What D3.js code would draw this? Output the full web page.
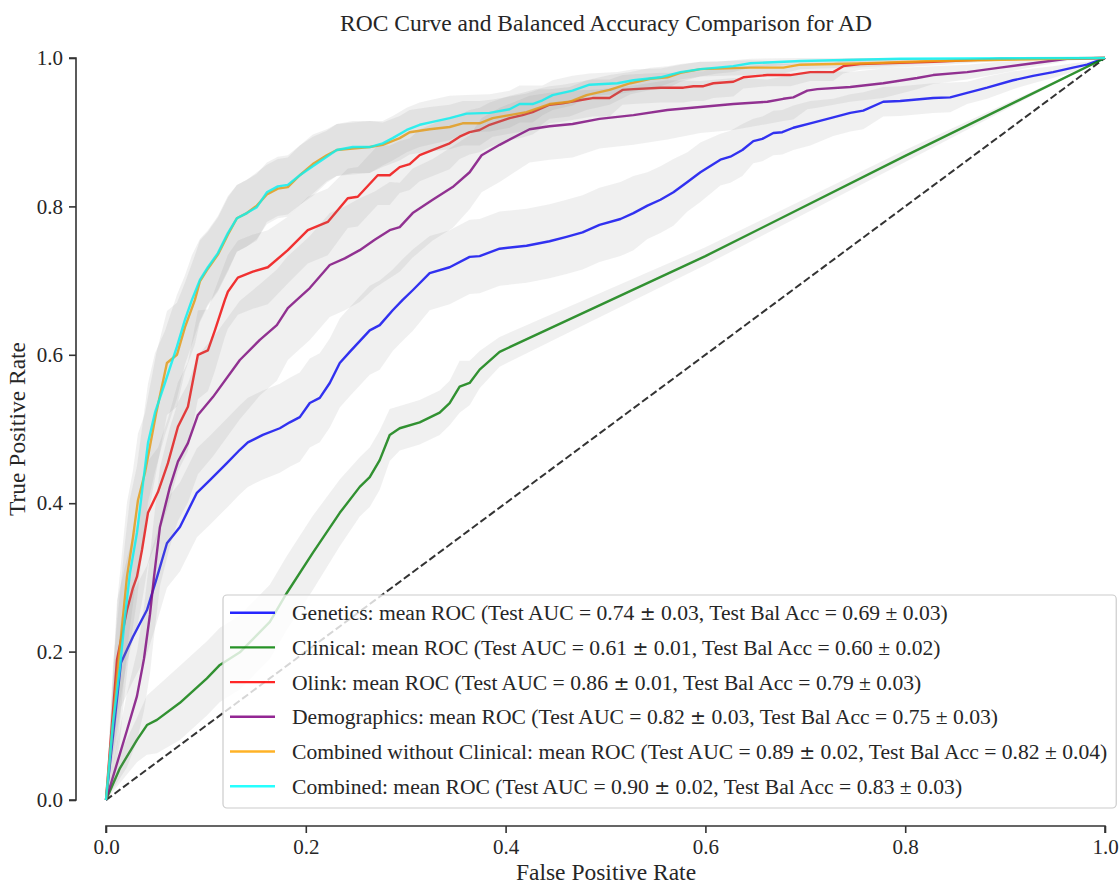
<!DOCTYPE html>
<html><head><meta charset="utf-8">
<script src="https://cdn.jsdelivr.net/npm/d3@7"></script>
<style>
html,body{margin:0;padding:0;background:#fff;}
svg text{font-family:"Liberation Serif","Times New Roman",serif;fill:#262626;}
</style></head>
<body><svg id="chart" width="1120" height="884"></svg>
<script>
// ---- data: [fpr, mean tpr, std] ----
const geneticsROC = [[0,0,0],[0.015,0.185,0.06],[0.027,0.220,0.06],[0.041,0.256,0.06],[0.051,0.300,0.06],[0.061,0.346,0.06],[0.074,0.368,0.06],[0.091,0.414,0.06],[0.104,0.431,0.06],[0.121,0.454,0.06],[0.134,0.472,0.06],[0.142,0.482,0.06],[0.157,0.492,0.06],[0.174,0.501,0.06],[0.184,0.509,0.06],[0.194,0.516,0.06],[0.204,0.535,0.06],[0.214,0.542,0.06],[0.224,0.562,0.06],[0.234,0.589,0.06],[0.244,0.604,0.06],[0.264,0.633,0.06],[0.274,0.640,0.06],[0.287,0.660,0.055],[0.297,0.674,0.055],[0.307,0.687,0.055],[0.324,0.710,0.05],[0.344,0.718,0.05],[0.364,0.732,0.05],[0.374,0.733,0.05],[0.394,0.743,0.05],[0.421,0.747,0.05],[0.444,0.753,0.05],[0.461,0.759,0.05],[0.477,0.765,0.05],[0.494,0.775,0.05],[0.515,0.783,0.05],[0.528,0.791,0.05],[0.542,0.801,0.045],[0.555,0.809,0.045],[0.568,0.819,0.045],[0.582,0.833,0.04],[0.595,0.846,0.04],[0.615,0.863,0.035],[0.625,0.867,0.035],[0.637,0.876,0.035],[0.648,0.888,0.03],[0.657,0.891,0.03],[0.668,0.899,0.03],[0.677,0.900,0.03],[0.688,0.906,0.03],[0.705,0.912,0.03],[0.728,0.920,0.025],[0.745,0.926,0.025],[0.758,0.929,0.025],[0.778,0.941,0.02],[0.795,0.942,0.02],[0.828,0.946,0.02],[0.845,0.947,0.02],[0.862,0.953,0.015],[0.882,0.960,0.015],[0.908,0.970,0.012],[0.928,0.976,0.01],[0.948,0.981,0.008],[0.968,0.987,0.006],[0.982,0.991,0.004],[1,1,0]];
const clinicalROC = [[0,0,0],[0.014,0.043,0.02],[0.031,0.081,0.03],[0.041,0.101,0.04],[0.051,0.108,0.045],[0.074,0.131,0.05],[0.101,0.164,0.05],[0.114,0.182,0.05],[0.134,0.199,0.05],[0.164,0.240,0.05],[0.181,0.279,0.05],[0.207,0.333,0.05],[0.234,0.387,0.045],[0.254,0.422,0.04],[0.264,0.435,0.04],[0.274,0.458,0.04],[0.284,0.492,0.035],[0.294,0.501,0.03],[0.314,0.509,0.03],[0.334,0.522,0.03],[0.344,0.535,0.03],[0.354,0.557,0.035],[0.364,0.562,0.03],[0.374,0.580,0.025],[0.394,0.604,0.02],[0.600,0.733,0.012],[0.800,0.868,0.008],[1,1,0]];
const olinkROC = [[0,0,0],[0.011,0.189,0.08],[0.021,0.256,0.07],[0.027,0.286,0.07],[0.031,0.301,0.07],[0.036,0.337,0.07],[0.042,0.387,0.07],[0.052,0.415,0.06],[0.062,0.454,0.06],[0.072,0.503,0.06],[0.082,0.530,0.06],[0.092,0.600,0.06],[0.102,0.606,0.055],[0.109,0.633,0.055],[0.119,0.674,0.05],[0.122,0.685,0.05],[0.132,0.704,0.05],[0.147,0.712,0.05],[0.162,0.718,0.05],[0.182,0.741,0.045],[0.202,0.768,0.045],[0.222,0.779,0.045],[0.242,0.811,0.04],[0.252,0.813,0.04],[0.272,0.842,0.04],[0.284,0.842,0.04],[0.294,0.853,0.035],[0.304,0.857,0.035],[0.314,0.869,0.035],[0.344,0.885,0.035],[0.354,0.894,0.03],[0.364,0.900,0.03],[0.374,0.903,0.03],[0.384,0.910,0.03],[0.404,0.919,0.03],[0.417,0.923,0.03],[0.427,0.927,0.03],[0.444,0.937,0.025],[0.457,0.939,0.025],[0.474,0.943,0.025],[0.487,0.946,0.025],[0.504,0.946,0.025],[0.517,0.957,0.02],[0.528,0.958,0.02],[0.555,0.960,0.02],[0.578,0.960,0.02],[0.588,0.962,0.02],[0.598,0.962,0.02],[0.608,0.966,0.02],[0.628,0.968,0.02],[0.638,0.974,0.015],[0.662,0.977,0.015],[0.685,0.977,0.015],[0.705,0.981,0.012],[0.728,0.981,0.012],[0.738,0.989,0.01],[0.755,0.992,0.008],[0.778,0.993,0.007],[0.828,0.995,0.005],[0.895,0.999,0.003],[1,1,0]];
const demographicsROC = [[0,0,0],[0.021,0.094,0.05],[0.031,0.140,0.06],[0.038,0.190,0.07],[0.044,0.250,0.08],[0.048,0.300,0.08],[0.054,0.368,0.08],[0.064,0.422,0.08],[0.072,0.456,0.08],[0.082,0.481,0.08],[0.092,0.519,0.08],[0.107,0.543,0.08],[0.134,0.593,0.08],[0.154,0.620,0.075],[0.171,0.640,0.075],[0.182,0.663,0.07],[0.191,0.674,0.07],[0.204,0.690,0.07],[0.224,0.721,0.07],[0.239,0.730,0.07],[0.254,0.741,0.07],[0.269,0.755,0.065],[0.284,0.768,0.065],[0.294,0.772,0.06],[0.307,0.791,0.06],[0.327,0.809,0.055],[0.347,0.826,0.055],[0.364,0.846,0.05],[0.376,0.869,0.05],[0.394,0.883,0.05],[0.424,0.904,0.045],[0.444,0.908,0.045],[0.467,0.911,0.045],[0.494,0.918,0.04],[0.528,0.923,0.04],[0.562,0.930,0.04],[0.595,0.934,0.035],[0.628,0.938,0.035],[0.662,0.941,0.03],[0.678,0.945,0.03],[0.688,0.947,0.03],[0.702,0.956,0.025],[0.712,0.958,0.025],[0.745,0.961,0.02],[0.778,0.966,0.02],[0.812,0.973,0.015],[0.828,0.977,0.012],[0.862,0.981,0.01],[0.895,0.987,0.008],[0.928,0.993,0.005],[0.962,0.999,0.003],[1,1,0]];
const combinedNoClinROC = [[0,0,0],[0.012,0.179,0.1],[0.021,0.301,0.1],[0.027,0.354,0.09],[0.032,0.404,0.09],[0.039,0.441,0.08],[0.050,0.520,0.08],[0.061,0.589,0.07],[0.071,0.600,0.07],[0.079,0.637,0.06],[0.089,0.674,0.06],[0.094,0.699,0.055],[0.102,0.716,0.05],[0.112,0.735,0.05],[0.122,0.762,0.05],[0.131,0.784,0.045],[0.141,0.791,0.045],[0.151,0.801,0.045],[0.161,0.816,0.04],[0.172,0.824,0.04],[0.182,0.826,0.04],[0.194,0.842,0.04],[0.207,0.857,0.04],[0.221,0.869,0.035],[0.231,0.876,0.035],[0.247,0.878,0.035],[0.264,0.880,0.035],[0.277,0.883,0.03],[0.294,0.892,0.03],[0.304,0.900,0.03],[0.324,0.904,0.03],[0.344,0.907,0.03],[0.357,0.912,0.03],[0.374,0.912,0.03],[0.387,0.919,0.025],[0.404,0.923,0.025],[0.421,0.927,0.025],[0.434,0.933,0.025],[0.444,0.938,0.02],[0.464,0.941,0.02],[0.481,0.950,0.02],[0.504,0.957,0.02],[0.525,0.966,0.015],[0.545,0.972,0.015],[0.562,0.974,0.015],[0.575,0.980,0.012],[0.595,0.985,0.01],[0.645,0.987,0.01],[0.678,0.987,0.008],[0.695,0.991,0.006],[0.762,0.993,0.005],[0.828,0.996,0.003],[1,1,0]];
const combinedROC = [[0,0,0],[0.007,0.104,0.08],[0.014,0.179,0.1],[0.019,0.247,0.1],[0.024,0.306,0.1],[0.031,0.360,0.09],[0.042,0.481,0.08],[0.049,0.522,0.08],[0.059,0.562,0.07],[0.071,0.611,0.07],[0.079,0.647,0.06],[0.086,0.674,0.06],[0.094,0.701,0.055],[0.102,0.718,0.05],[0.112,0.737,0.05],[0.122,0.764,0.05],[0.131,0.784,0.045],[0.141,0.791,0.045],[0.151,0.799,0.045],[0.161,0.819,0.04],[0.172,0.827,0.04],[0.182,0.829,0.04],[0.194,0.842,0.04],[0.207,0.854,0.04],[0.221,0.867,0.035],[0.231,0.876,0.035],[0.247,0.880,0.035],[0.264,0.880,0.035],[0.277,0.885,0.03],[0.287,0.892,0.03],[0.301,0.903,0.03],[0.314,0.910,0.03],[0.327,0.914,0.03],[0.344,0.919,0.03],[0.361,0.925,0.025],[0.384,0.926,0.025],[0.404,0.931,0.025],[0.414,0.938,0.025],[0.427,0.938,0.025],[0.437,0.943,0.02],[0.447,0.950,0.02],[0.467,0.956,0.02],[0.484,0.964,0.015],[0.512,0.966,0.015],[0.528,0.970,0.015],[0.555,0.974,0.012],[0.575,0.981,0.01],[0.595,0.985,0.01],[0.612,0.987,0.008],[0.628,0.989,0.008],[0.645,0.993,0.006],[0.695,0.996,0.004],[0.795,0.999,0.002],[1,1,0]];

const seriesNames = ["Genetics","Clinical","Olink","Demographics","Combined without Clinical","Combined"];
const seriesColors = ["blue","green","red","purple","orange","cyan"];
const aucMean = ["0.74","0.61","0.86","0.82","0.89","0.90"];
const aucStd  = ["0.03","0.01","0.01","0.03","0.02","0.02"];
const balMean = ["0.69","0.60","0.79","0.75","0.82","0.83"];
const balStd  = ["0.03","0.02","0.03","0.03","0.04","0.03"];
const tickValues = [0,0.2,0.4,0.6,0.8,1.0];
const rocData = [geneticsROC, clinicalROC, olinkROC, demographicsROC, combinedNoClinROC, combinedROC];

const svg = d3.select("#chart");
const x = d3.scaleLinear().domain([0,1]).range([106,1105]);
const y = d3.scaleLinear().domain([0,1]).range([800,58]);

// title
svg.append("text").attr("x",606).attr("y",31).attr("text-anchor","middle")
  .style("font-size","23.5px").text("ROC Curve and Balanced Accuracy Comparison for AD");

const plot = svg.append("g");
// chance diagonal
plot.append("line").attr("x1",x(0)).attr("y1",y(0)).attr("x2",x(1)).attr("y2",y(1))
  .attr("stroke","#000").attr("stroke-opacity",0.8).attr("stroke-width",2).attr("stroke-dasharray","7.4,3.2");

const line = d3.line().x(d=>x(d[0])).y(d=>y(d[1]));
const band = d3.area().x(d=>x(d[0])).y0(d=>y(Math.max(0,d[1]-d[2]))).y1(d=>y(Math.min(1,d[1]+d[2])));

rocData.forEach((data,i)=>{
  plot.append("path").datum(data).attr("d",line).attr("fill","none")
    .attr("stroke",seriesColors[i]).attr("stroke-opacity",0.85).attr("stroke-width",2.4).attr("stroke-linejoin","round");
  plot.append("path").datum(data).attr("d",band).attr("fill","grey").attr("fill-opacity",0.12);
});

// axes (offset spines)
const xAxis = d3.axisBottom(x).tickValues(tickValues).tickFormat(d3.format(".1f")).tickSize(7).tickPadding(6);
const gx = svg.append("g").attr("transform","translate(0,826)").call(xAxis);
const yAxis = d3.axisLeft(y).tickValues(tickValues).tickFormat(d3.format(".1f")).tickSize(7).tickPadding(6);
const gy = svg.append("g").attr("transform","translate(76,0)").call(yAxis);
[gx,gy].forEach(g=>{
  g.select(".domain").attr("stroke","#333").attr("stroke-width",1.6);
  g.selectAll(".tick line").attr("stroke","#333").attr("stroke-width",1.6);
  g.selectAll(".tick text").style("font-size","21px").style("font-family","Liberation Serif, serif").attr("fill","#262626");
});
gx.select(".domain").attr("d","M106,7V0H1105V7");
gy.select(".domain").attr("d","M-7,58H0V800H-7");

svg.append("text").attr("x",606).attr("y",880).attr("text-anchor","middle").style("font-size","23.5px").text("False Positive Rate");
svg.append("text").attr("transform","translate(25,429) rotate(-90)").attr("text-anchor","middle").style("font-size","23.5px").text("True Positive Rate");

// legend
const leg = svg.append("g");
const legBox = leg.append("rect").attr("x",223).attr("y",595).attr("rx",4).attr("ry",4)
  .attr("fill","#fff").attr("fill-opacity",0.8).attr("stroke","#ccc").attr("stroke-width",1.2);
let maxRight = 0;
seriesNames.forEach((n,i)=>{
  const cy = 612.7 + i*34.7;
  leg.append("line").attr("x1",230).attr("x2",275).attr("y1",cy).attr("y2",cy)
    .attr("stroke",seriesColors[i]).attr("stroke-opacity",0.85).attr("stroke-width",2.4);
  const t = leg.append("text").attr("x",292).attr("y",cy+7.5).style("font-size","21.6px");
  t.append("tspan").text(`${n}: mean ROC (Test AUC = ${aucMean[i]} `);
  t.append("tspan").style("font-family","DejaVu Sans").style("font-size","19px").text("±");
  t.append("tspan").text(` ${aucStd[i]}, Test Bal Acc = ${balMean[i]} ± ${balStd[i]})`);
  maxRight = Math.max(maxRight, 292 + t.node().getComputedTextLength());
});
legBox.attr("width", maxRight + 9 - 223).attr("height", 808 - 595);
</script></body></html>
